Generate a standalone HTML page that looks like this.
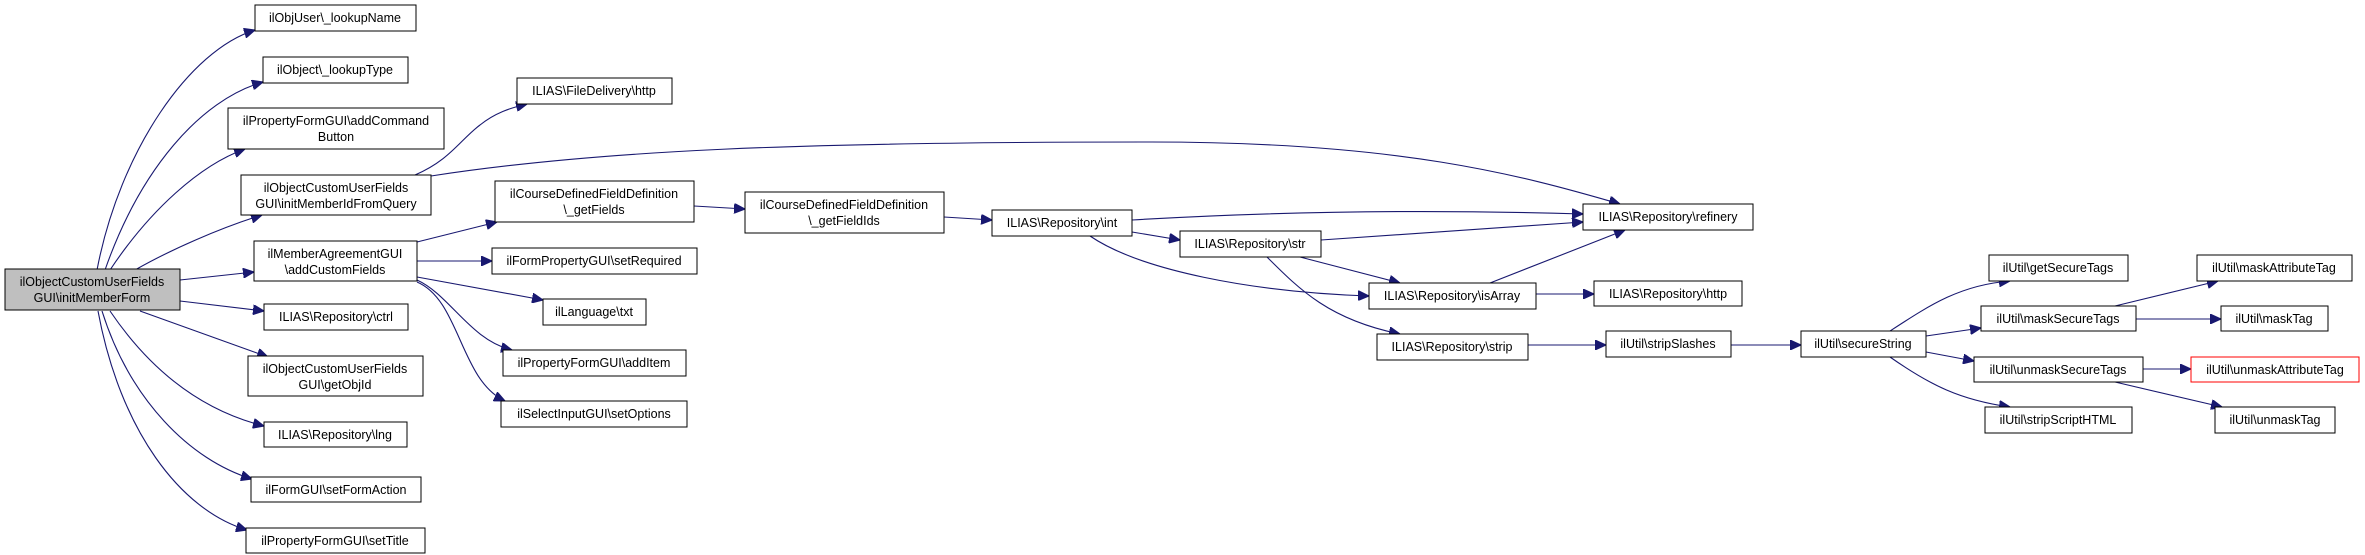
<!DOCTYPE html>
<html><head><meta charset="utf-8"><style>
html,body{margin:0;padding:0;background:#fff;}
svg{display:block}
text{font-family:"Liberation Sans",Arial,sans-serif;font-size:12.5px;fill:#000;text-anchor:middle}
rect{fill:#fff;stroke:#000;stroke-width:1}
path{fill:none;stroke:#191970;stroke-width:1.1}
</style></head><body>
<svg width="2365" height="555" viewBox="0 0 2365 555">
<defs><marker id="a" markerUnits="userSpaceOnUse" markerWidth="12" markerHeight="10" refX="11" refY="5" orient="auto"><path d="M0,0 L11,5 L0,10 Z" style="fill:#191970;stroke:#191970"/></marker></defs>
<g marker-end="url(#a)">
<path d="M97,270 C120,150 190,50 255,30"/>
<path d="M105,270 C140,170 200,100 263,82"/>
<path d="M110,270 C150,210 200,165 245,149"/>
<path d="M135,270 C170,250 220,228 262,215"/>
<path d="M180,280 L254,272"/>
<path d="M180,301 L264,311"/>
<path d="M140,311 L268,357"/>
<path d="M110,311 C150,370 200,410 264,426"/>
<path d="M102,311 C130,400 190,460 252,479"/>
<path d="M98,311 C120,430 180,510 247,530"/>
<path d="M415,175 C450,160 460,140 480,125 C495,113 510,108 527,104"/>
<path d="M431,176 C600,150 800,142 1150,142 C1400,142 1520,175 1620,204"/>
<path d="M417,242 L497,222"/>
<path d="M417,261 L492,261"/>
<path d="M417,277 L543,300"/>
<path d="M417,280 C450,295 470,340 512,350"/>
<path d="M417,282 C460,300 460,380 505,401"/>
<path d="M694,206 L745,209"/>
<path d="M944,217 L992,220"/>
<path d="M1132,220 C1300,210 1450,210 1583,214"/>
<path d="M1132,232 L1180,240"/>
<path d="M1090,236 C1140,270 1250,292 1369,296"/>
<path d="M1321,240 L1583,222"/>
<path d="M1300,257 L1400,283"/>
<path d="M1267,257 C1300,290 1330,320 1400,334"/>
<path d="M1490,283 L1625,230"/>
<path d="M1536,294 L1594,294"/>
<path d="M1528,345 L1606,345"/>
<path d="M1731,345 L1801,345"/>
<path d="M1890,331 C1930,305 1960,285 2010,281"/>
<path d="M1926,336 L1981,328"/>
<path d="M1926,352 L1974,361"/>
<path d="M1890,357 C1930,385 1960,400 2010,407"/>
<path d="M2115,306 L2218,281"/>
<path d="M2136,319 L2221,319"/>
<path d="M2143,369 L2191,369"/>
<path d="M2115,382 L2222,407"/>
</g>
<rect x="5" y="269" width="175" height="41" style="fill:#bfbfbf"/>
<text x="92" y="286">ilObjectCustomUserFields</text><text x="92" y="302">GUI\initMemberForm</text>
<rect x="255" y="5" width="161" height="26"/><text x="335" y="22">ilObjUser\_lookupName</text>
<rect x="263" y="57" width="145" height="26"/><text x="335" y="74">ilObject\_lookupType</text>
<rect x="228" y="108" width="216" height="41"/><text x="336" y="125">ilPropertyFormGUI\addCommand</text><text x="336" y="141">Button</text>
<rect x="241" y="175" width="190" height="40"/><text x="336" y="192">ilObjectCustomUserFields</text><text x="336" y="208">GUI\initMemberIdFromQuery</text>
<rect x="254" y="241" width="163" height="40"/><text x="335" y="258">ilMemberAgreementGUI</text><text x="335" y="274">\addCustomFields</text>
<rect x="264" y="304" width="144" height="26"/><text x="336" y="321">ILIAS\Repository\ctrl</text>
<rect x="248" y="356" width="175" height="40"/><text x="335" y="373">ilObjectCustomUserFields</text><text x="335" y="389">GUI\getObjId</text>
<rect x="264" y="422" width="143" height="25"/><text x="335" y="439">ILIAS\Repository\lng</text>
<rect x="251" y="477" width="170" height="25"/><text x="336" y="494">ilFormGUI\setFormAction</text>
<rect x="246" y="528" width="179" height="25"/><text x="335" y="545">ilPropertyFormGUI\setTitle</text>
<rect x="517" y="78" width="155" height="26"/><text x="594" y="95">ILIAS\FileDelivery\http</text>
<rect x="495" y="181" width="199" height="41"/><text x="594" y="198">ilCourseDefinedFieldDefinition</text><text x="594" y="214">\_getFields</text>
<rect x="492" y="248" width="205" height="26"/><text x="594" y="265">ilFormPropertyGUI\setRequired</text>
<rect x="543" y="299" width="103" height="26"/><text x="594" y="316">ilLanguage\txt</text>
<rect x="503" y="350" width="183" height="26"/><text x="594" y="367">ilPropertyFormGUI\addItem</text>
<rect x="501" y="401" width="186" height="26"/><text x="594" y="418">ilSelectInputGUI\setOptions</text>
<rect x="745" y="192" width="199" height="41"/><text x="844" y="209">ilCourseDefinedFieldDefinition</text><text x="844" y="225">\_getFieldIds</text>
<rect x="992" y="210" width="140" height="26"/><text x="1062" y="227">ILIAS\Repository\int</text>
<rect x="1180" y="231" width="141" height="26"/><text x="1250" y="248">ILIAS\Repository\str</text>
<rect x="1369" y="283" width="167" height="26"/><text x="1452" y="300">ILIAS\Repository\isArray</text>
<rect x="1377" y="334" width="151" height="26"/><text x="1452" y="351">ILIAS\Repository\strip</text>
<rect x="1583" y="204" width="170" height="26"/><text x="1668" y="221">ILIAS\Repository\refinery</text>
<rect x="1594" y="281" width="148" height="25"/><text x="1668" y="298">ILIAS\Repository\http</text>
<rect x="1606" y="331" width="125" height="26"/><text x="1668" y="348">ilUtil\stripSlashes</text>
<rect x="1801" y="331" width="125" height="26"/><text x="1863" y="348">ilUtil\secureString</text>
<rect x="1989" y="255" width="139" height="26"/><text x="2058" y="272">ilUtil\getSecureTags</text>
<rect x="1981" y="306" width="155" height="25"/><text x="2058" y="323">ilUtil\maskSecureTags</text>
<rect x="1974" y="357" width="169" height="25"/><text x="2058" y="374">ilUtil\unmaskSecureTags</text>
<rect x="1985" y="407" width="147" height="26"/><text x="2058" y="424">ilUtil\stripScriptHTML</text>
<rect x="2197" y="255" width="155" height="26"/><text x="2274" y="272">ilUtil\maskAttributeTag</text>
<rect x="2221" y="306" width="107" height="25"/><text x="2274" y="323">ilUtil\maskTag</text>
<rect x="2191" y="357" width="168" height="25" style="stroke:#ff0000"/><text x="2275" y="374">ilUtil\unmaskAttributeTag</text>
<rect x="2215" y="407" width="120" height="26"/><text x="2275" y="424">ilUtil\unmaskTag</text>
</svg>
</body></html>
